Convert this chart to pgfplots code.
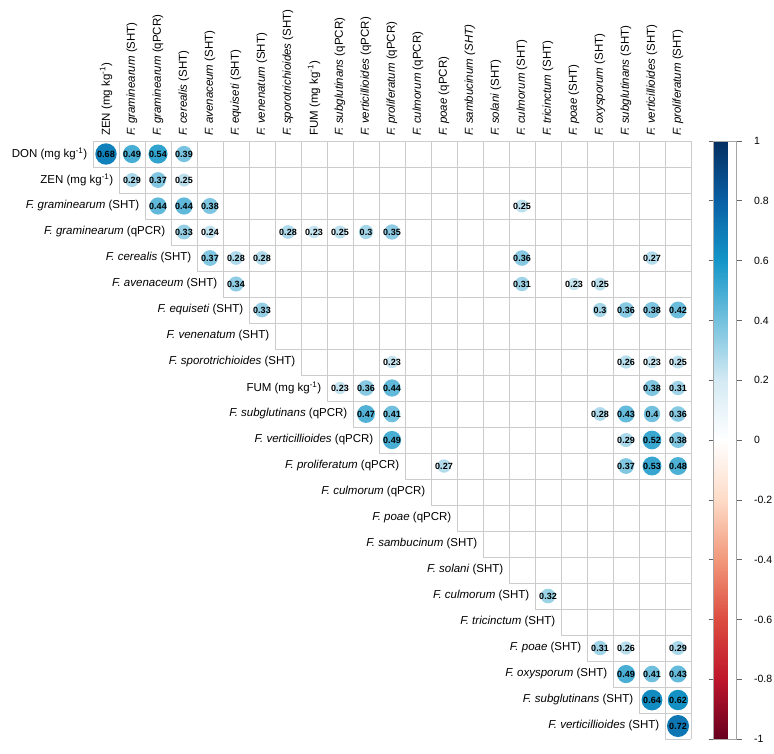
\documentclass[border=0pt]{standalone}
\usepackage{pgfplots}
\pgfplotsset{compat=1.18}
\usepackage{pgfplotstable}
\usepackage{fontspec}
\setmainfont{Liberation Sans}
\definecolor{gridc}{RGB}{204,204,204}
\pgfplotsset{
 colormap={corr}{
  rgb255=(103,0,31) rgb255=(190,22,44) rgb255=(220,76,64) rgb255=(242,152,122) rgb255=(253,219,199)
  rgb255=(255,255,255) rgb255=(212,234,243) rgb255=(115,193,222) rgb255=(20,150,200) rgb255=(10,96,165) rgb255=(5,48,97)
 }
}
\newcommand\lab{\fontsize{11.5}{13.8}\selectfont}
\newcommand\F[1]{\textit{F. #1}}
\newcommand\rl[2]{\node[anchor=east, inner sep=0pt, font=\lab] at ({61.5+26*#1},{-(128+26*#1)}) {#2};}
\newcommand\cl[2]{\node[anchor=west, rotate=90, inner sep=0pt, font=\lab] at ({80+26*#1},-136) {#2};}

\pgfplotstableread{
x y r
1 1 0.68
2 1 0.49
3 1 0.54
4 1 0.39
2 2 0.29
3 2 0.37
4 2 0.25
3 3 0.44
4 3 0.44
5 3 0.38
17 3 0.25
4 4 0.33
5 4 0.24
8 4 0.28
9 4 0.23
10 4 0.25
11 4 0.30
12 4 0.35
5 5 0.37
6 5 0.28
7 5 0.28
17 5 0.36
22 5 0.27
6 6 0.34
17 6 0.31
19 6 0.23
20 6 0.25
7 7 0.33
20 7 0.30
21 7 0.36
22 7 0.38
23 7 0.42
12 9 0.23
21 9 0.26
22 9 0.23
23 9 0.25
10 10 0.23
11 10 0.36
12 10 0.44
22 10 0.38
23 10 0.31
11 11 0.47
12 11 0.41
20 11 0.28
21 11 0.43
22 11 0.40
23 11 0.36
12 12 0.49
21 12 0.29
22 12 0.52
23 12 0.38
14 13 0.27
21 13 0.37
22 13 0.53
23 13 0.48
18 18 0.32
20 20 0.31
21 20 0.26
23 20 0.29
21 21 0.49
22 21 0.41
23 21 0.43
22 22 0.64
23 22 0.62
23 23 0.72
}\corrdata

\begin{document}
\begin{tikzpicture}[x=1pt,y=1pt]
\useasboundingbox (0,0) rectangle (774,-754);
% staircase grid
\foreach \k in {0,...,23} {
  \pgfmathsetmacro\yb{-(141+26*min(\k+1,23))}
  \draw[gridc, line width=0.8pt] ({93+26*\k},-141) -- ({93+26*\k},\yb);
}
\foreach \i in {0,...,23} {
  \pgfmathsetmacro\xa{93+26*max(\i-1,0)}
  \pgfmathsetmacro\yy{-(141+26*\i)}
  \draw[gridc, line width=0.8pt] (\xa,\yy) -- (691,\yy);
}
\begin{axis}[
  at={(93pt,-141pt)}, anchor=north west,
  scale only axis, width=598pt, height=598pt,
  xmin=0.5, xmax=23.5, ymin=0.5, ymax=23.5, y dir=reverse,
  hide axis, clip=false,
  colormap name=corr, point meta min=-1, point meta max=1,
  colorbar,
  colorbar style={
    at={(parent axis.north east)}, anchor=north west, xshift=14pt,
    scale only axis, width=23pt, height=598pt,
    ytick={-1,-0.8,-0.6,-0.4,-0.2,0,0.2,0.4,0.6,0.8,1},
    tick align=outside, major tick length=5pt,
    ytick style={draw=gray!80!black, line width=0.6pt},
    axis line style={draw=gray!70, line width=0.6pt},
    yticklabel style={font=\fontsize{10.5}{12}\selectfont, anchor=west, xshift=9pt},
    /pgf/number format/assume math mode=true,
    /pgf/number format/fixed,
  },
]
\addplot[scatter, only marks, mark=*, point meta=explicit,
  scatter/use mapped color={draw opacity=0, fill=mapped color},
  visualization depends on={13*sqrt(\thisrow{r}) \as \rad},
  scatter/@pre marker code/.append style={/tikz/mark size=\rad},
] table[x=x, y=y, meta=r] {\corrdata};
\addplot[draw=none, mark=none, point meta=explicit,
  nodes near coords={\pgfmathprintnumber[assume math mode=true, fixed, precision=2]{\pgfplotspointmeta}},
  every node near coord/.append style={anchor=center, text=black, font=\bfseries\fontsize{9}{9}\selectfont, inner sep=0pt},
] table[x=x, y=y, meta=r] {\corrdata};
\end{axis}
% row labels
\rl{1}{DON (mg kg\textsuperscript{-1})}
\rl{2}{ZEN (mg kg\textsuperscript{-1})}
\rl{3}{\F{graminearum} (SHT)}
\rl{4}{\F{graminearum} (qPCR)}
\rl{5}{\F{cerealis} (SHT)}
\rl{6}{\F{avenaceum} (SHT)}
\rl{7}{\F{equiseti} (SHT)}
\rl{8}{\F{venenatum} (SHT)}
\rl{9}{\F{sporotrichioides} (SHT)}
\rl{10}{FUM (mg kg\textsuperscript{-1})}
\rl{11}{\F{subglutinans} (qPCR)}
\rl{12}{\F{verticillioides} (qPCR)}
\rl{13}{\F{proliferatum} (qPCR)}
\rl{14}{\F{culmorum} (qPCR)}
\rl{15}{\F{poae} (qPCR)}
\rl{16}{\F{sambucinum} (SHT)}
\rl{17}{\F{solani} (SHT)}
\rl{18}{\F{culmorum} (SHT)}
\rl{19}{\F{tricinctum} (SHT)}
\rl{20}{\F{poae} (SHT)}
\rl{21}{\F{oxysporum} (SHT)}
\rl{22}{\F{subglutinans} (SHT)}
\rl{23}{\F{verticillioides} (SHT)}
% column labels
\cl{1}{ZEN (mg kg\textsuperscript{-1})}
\cl{2}{\F{graminearum} (SHT)}
\cl{3}{\F{graminearum} (qPCR)}
\cl{4}{\F{cerealis} (SHT)}
\cl{5}{\F{avenaceum} (SHT)}
\cl{6}{\F{equiseti} (SHT)}
\cl{7}{\F{venenatum} (SHT)}
\cl{8}{\F{sporotrichioides} (SHT)}
\cl{9}{FUM (mg kg\textsuperscript{-1})}
\cl{10}{\F{subglutinans} (qPCR)}
\cl{11}{\F{verticillioides} (qPCR)}
\cl{12}{\F{proliferatum} (qPCR)}
\cl{13}{\F{culmorum} (qPCR)}
\cl{14}{\F{poae} (qPCR)}
\cl{15}{\F{sambucinum} \textit{(SHT)}}
\cl{16}{\F{solani} (SHT)}
\cl{17}{\F{culmorum} (SHT)}
\cl{18}{\F{tricinctum} (SHT)}
\cl{19}{\F{poae} (SHT)}
\cl{20}{\F{oxysporum} (SHT)}
\cl{21}{\F{subglutinans} (SHT)}
\cl{22}{\F{verticillioides} (SHT)}
\cl{23}{\F{proliferatum} (SHT)}
\end{tikzpicture}
\end{document}
